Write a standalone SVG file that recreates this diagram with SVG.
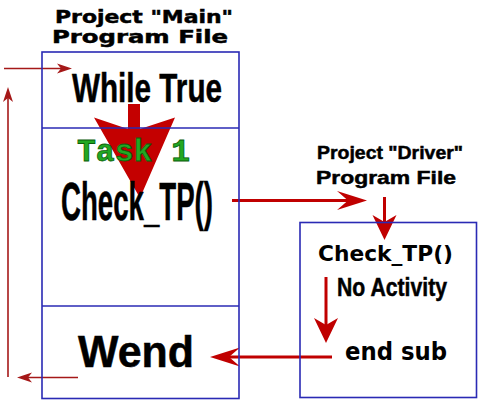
<svg xmlns="http://www.w3.org/2000/svg" width="482" height="404" viewBox="0 0 482 404">
  <style>
    .box { fill: none; stroke: #2a2ab4; stroke-width: 1.6; }
    .thin { fill: none; stroke: #a51818; stroke-width: 1.6; }
    .thick { fill: none; stroke: #c00000; stroke-width: 3; }
    .lab { fill: #000; stroke: #000; stroke-width: 0.5; font-family: "Liberation Sans", Arial, sans-serif; font-weight: bold; }
    .dv { fill: #000; font-family: "DejaVu Sans", Verdana, sans-serif; font-weight: bold; }
    .task { fill: #22a822; stroke: #0b5e0b; stroke-width: 0.8; font-family: "Liberation Mono", "Courier New", monospace; font-weight: bold; }
  </style>
  <defs>
    <!-- stealth heads; the reference point is the inner notch so the shaft hides under the head -->
    <marker id="head-lg" markerUnits="userSpaceOnUse" viewBox="-31 -10 32 20" markerWidth="32" markerHeight="20" refX="-19" refY="0" orient="auto" overflow="visible">
      <path d="M0,0 L-30,-9.5 L-19,0 L-30,9.5 Z" fill="#c00000"/>
    </marker>
    <marker id="head-sq" markerUnits="userSpaceOnUse" viewBox="-26 -13 27 26" markerWidth="27" markerHeight="26" refX="-18" refY="0" orient="auto" overflow="visible">
      <path d="M0,0 L-25,-12 L-18,0 L-25,12 Z" fill="#c00000"/>
    </marker>
    <marker id="head-thin" markerUnits="userSpaceOnUse" viewBox="-16 -6 17 12" markerWidth="17" markerHeight="12" refX="-11" refY="0" orient="auto" overflow="visible">
      <path d="M0,0 L-15,-5 L-11,0 L-15,5 Z" fill="#a51818"/>
    </marker>
  </defs>

  <g id="connectors">
    <!-- big flow arrow from While True down into Check_TP() -->
    <polygon points="128,104 140,104 140,129 175,117.5 140,198 94,117.5 128,129" fill="#c40000"/>
    <!-- call into the driver file -->
    <path class="thick" d="M232,200.5 H348" marker-end="url(#head-lg)"/>
    <path class="thick" d="M384.5,197 V222" marker-end="url(#head-sq)"/>
    <!-- through the sub body -->
    <path class="thick" d="M326,277 V325" marker-end="url(#head-sq)"/>
    <!-- return to Wend -->
    <path class="thick" d="M332,357 H229" marker-end="url(#head-lg)"/>
    <!-- loop back to While True -->
    <path class="thin" d="M78,377.5 H28" marker-end="url(#head-thin)"/>
    <path class="thin" d="M8,377 V98" marker-end="url(#head-thin)"/>
    <path class="thin" d="M4,68.5 H61" marker-end="url(#head-thin)"/>
  </g>

  <g id="main-file">
    <text class="dv" x="55" y="23" font-size="18" stroke="#000" stroke-width="0.5" textLength="178" lengthAdjust="spacingAndGlyphs">Project "Main"</text>
    <text class="dv" x="52" y="42.5" font-size="18" stroke="#000" stroke-width="0.5" textLength="176" lengthAdjust="spacingAndGlyphs">Program File</text>
    <rect class="box" x="42" y="52" width="197" height="346.5"/>
    <line class="box" x1="42" y1="128" x2="239" y2="128"/>
    <line class="box" x1="42" y1="306" x2="239" y2="306"/>
  </g>

  <g id="while-true">
    <text class="lab" x="72" y="101.5" font-size="40" textLength="150" lengthAdjust="spacingAndGlyphs">While True</text>
  </g>

  <g id="task-1">
    <text class="task" x="77" y="161" font-size="32" textLength="113" lengthAdjust="spacingAndGlyphs">Task 1</text>
    <text class="lab" x="61" y="220" font-size="54" textLength="152" lengthAdjust="spacingAndGlyphs">Check_TP()</text>
  </g>

  <g id="wend">
    <text class="lab" x="78" y="367" font-size="44" textLength="116" lengthAdjust="spacingAndGlyphs">Wend</text>
  </g>

  <g id="driver-file">
    <text class="lab" x="317" y="159" font-size="19" textLength="146" lengthAdjust="spacingAndGlyphs">Project "Driver"</text>
    <text class="lab" x="316" y="184" font-size="19" textLength="140" lengthAdjust="spacingAndGlyphs">Program File</text>
    <rect class="box" x="300" y="222.5" width="176.5" height="175"/>
    <text class="dv" x="318" y="261" font-size="21" textLength="135" lengthAdjust="spacingAndGlyphs">Check_TP()</text>
    <text class="lab" x="337" y="296" font-size="26" textLength="110" lengthAdjust="spacingAndGlyphs">No Activity</text>
    <text class="dv" x="345" y="360" font-size="24" textLength="102" lengthAdjust="spacingAndGlyphs">end sub</text>
  </g>
</svg>
